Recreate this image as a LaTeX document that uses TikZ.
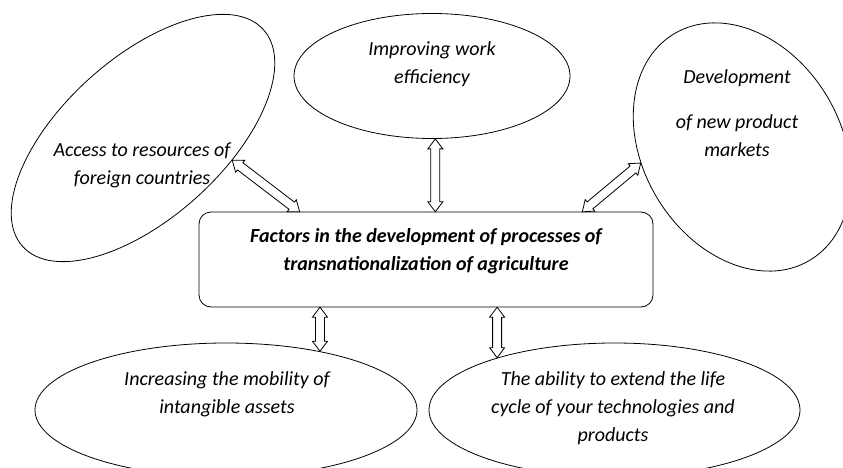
\documentclass[tikz,border=0pt]{standalone}
\usepackage{fontspec}
\setmainfont{Carlito}
\usepackage{tikz}
\usetikzlibrary{shapes.geometric,arrows.meta,positioning,calc}

\tikzset{
    factor/.style={ellipse, draw, line width=0.8pt, inner sep=0pt},
    factortext/.style={align=center, font=\fontsize{20}{28}\selectfont\itshape},
    link/.style={draw, fill=white, line width=0.8pt, line join=miter}
}

% hollow two-headed block arrow between two points
\newcommand{\linkarrow}[2]{%
    \coordinate (la) at ($(#1)!10pt!(#2)$);
    \coordinate (lb) at ($(#2)!10pt!(#1)$);
    \path[link] (#1) -- ($(la)!7.5pt!90:(#2)$) -- ($(la)!4.5pt!90:(#2)$)
        -- ($(lb)!4.5pt!-90:(#1)$) -- ($(lb)!7.5pt!-90:(#1)$) -- (#2)
        -- ($(lb)!7.5pt!90:(#1)$) -- ($(lb)!4.5pt!90:(#1)$)
        -- ($(la)!4.5pt!-90:(#2)$) -- ($(la)!7.5pt!-90:(#2)$) -- cycle;
}

\begin{document}
\begin{tikzpicture}[x=1pt,y=-1pt]
    \path[use as bounding box, clip] (0,0) rectangle (843,468);

    % Central block
    \draw[line width=0.8pt, rounded corners=12pt] (199,212) rectangle (653,307);
    \node[inner sep=0pt, minimum width=454pt, minimum height=95pt] (factors) at (426,259.5) {};
    \node[factortext, font=\fontsize{20}{28}\selectfont\bfseries\itshape] (factorsText) at (426,251)
        {Factors in the development of processes of\\ transnationalization of agriculture};

    % Upper factors
    \node[factor, minimum width=324pt, minimum height=160pt, rotate=42] (access) at (143,138) {};
    \node[factortext] (accessText) at (142,165) {Access to resources of\\ foreign countries};

    \node[factor, minimum width=276pt, minimum height=125pt] (work) at (432,76) {};
    \node[factortext] (workText) at (432,64) {Improving work\\ efficiency};

    \node[factor, minimum width=198pt, minimum height=264pt, rotate=31] (markets) at (742,147) {};
    \node[factortext] (marketsText) at (737,113) {Development\\[17pt] of new product\\ markets};

    % Lower factors
    \node[factor, minimum width=382pt, minimum height=134pt] (mobility) at (226,410) {};
    \node[factortext] (mobilityText) at (227,394) {Increasing the mobility of\\ intangible assets};

    \node[factor, minimum width=371pt, minimum height=134pt] (ability) at (614.5,410) {};
    \node[factortext] (abilityText) at (613,408) {The ability to extend the life\\ cycle of your technologies and\\ products};

    % Link ends on the central block
    \coordinate (accessEnd) at ($(factors.north west)!0.222!(factors.north east)$);
    \coordinate (workEnd) at (work.-87 |- factors.north);
    \coordinate (marketsEnd) at ($(factors.north west)!0.844!(factors.north east)$);
    \coordinate (mobilityEnd) at (factors.south -| mobility.32);
    \coordinate (abilityEnd) at (factors.south -| ability.156);

    % Links
    \linkarrow{access.-56}{accessEnd}
    \linkarrow{work.-87}{workEnd}
    \linkarrow{marketsEnd}{markets.158}
    \linkarrow{mobilityEnd}{mobility.32}
    \linkarrow{abilityEnd}{ability.156}
\end{tikzpicture}
\end{document}
